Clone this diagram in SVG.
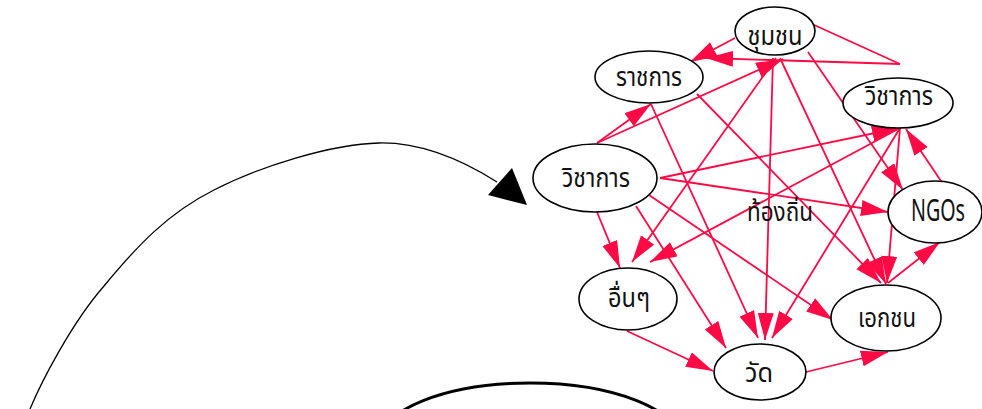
<svg xmlns="http://www.w3.org/2000/svg" width="982" height="409" viewBox="0 0 982 409">
<defs>
<marker id="ah" markerUnits="userSpaceOnUse" markerWidth="30" markerHeight="18" refX="27" refY="8" orient="auto">
<path d="M0,0 L27,8 L0,16 z" fill="#ff0a45"/>
</marker>
<style>
.node ellipse{fill:#fff;stroke:#000;stroke-width:1.6}
.node text{font-family:"Noto Sans Thai","Noto Sans","DejaVu Sans",sans-serif;font-size:26px;text-anchor:middle;fill:#111}
.edges path{fill:none;stroke:#ff0a45;stroke-width:1.8}
.edges path.a{marker-end:url(#ah)}
</style>
</defs>
<rect width="982" height="409" fill="#fff"/>
<g id="outer">
<path d="M30,409 C40,385 70,325 104,286 C137,246 168,213 214,190 C259.3,166.7 331.3,144 379,143 C426.7,142 470,165 497,182" fill="none" stroke="#000" stroke-width="1.3"/>
<polygon points="488,195 512,168 527,205" fill="#000"/>
<ellipse cx="530" cy="443" rx="151" ry="60" fill="none" stroke="#000" stroke-width="3"/>
</g>
<g class="edges" id="edges">
<path class="a" d="M735,38 L690,62"/>
<path d="M812,24 L900,64"/>
<path class="a" d="M900,64 L706,58"/>
<path class="a" d="M597,143 L783,59"/>
<path class="a" d="M597,143 L651,104"/>
<path class="a" d="M776,58 L632,262"/>
<path class="a" d="M773,58 L765,340"/>
<path class="a" d="M780,58 L886,284"/>
<path class="a" d="M808,52 L903,190"/>
<path class="a" d="M651,104 L758,338"/>
<path class="a" d="M697,94 L881,283"/>
<path class="a" d="M660,178 L899,128"/>
<path class="a" d="M660,178 L888,212"/>
<path class="a" d="M597,212 L620,268"/>
<path class="a" d="M636,206 L726,348"/>
<path class="a" d="M649,195 L833,320"/>
<path class="a" d="M900,128 L650,262"/>
<path class="a" d="M900,128 L772,338"/>
<path class="a" d="M900,128 L887,283"/>
<path class="a" d="M943,184 L906,129"/>
<path class="a" d="M888,283 L940,242"/>
<path class="a" d="M627,331 L713,371"/>
<path class="a" d="M806,372 L888,352"/>
</g>
<g class="node" id="n-chumchon"><ellipse cx="775" cy="31" rx="40" ry="24"/><text x="775" y="45" textLength="55" lengthAdjust="spacingAndGlyphs">ชุมชน</text></g>
<g class="node" id="n-ratchakan"><ellipse cx="649" cy="77" rx="54" ry="26"/><text x="649" y="86" textLength="66" lengthAdjust="spacingAndGlyphs">ราชการ</text></g>
<g class="node" id="n-wichakan-r"><ellipse cx="898" cy="103" rx="55" ry="25"/><text x="899" y="105" textLength="68" lengthAdjust="spacingAndGlyphs">วิชาการ</text></g>
<g class="node" id="n-wichakan-l"><ellipse cx="595" cy="178" rx="62" ry="34"/><text x="596" y="187" textLength="68" lengthAdjust="spacingAndGlyphs">วิชาการ</text></g>
<g class="node" id="n-thongthin"><text x="780" y="221" textLength="66" lengthAdjust="spacingAndGlyphs">ท้องถิ่น</text></g>
<g class="node" id="n-ngos"><ellipse cx="935" cy="212" rx="47" ry="31"/><text x="938" y="221" textLength="54" lengthAdjust="spacingAndGlyphs" style="font-size:30px">NGOs</text></g>
<g class="node" id="n-uen"><ellipse cx="628" cy="299" rx="49" ry="31"/><text x="629" y="307" textLength="42" lengthAdjust="spacingAndGlyphs">อื่นๆ</text></g>
<g class="node" id="n-wat"><ellipse cx="760" cy="372" rx="46" ry="28"/><text x="759" y="382" textLength="28" lengthAdjust="spacingAndGlyphs">วัด</text></g>
<g class="node" id="n-ekachon"><ellipse cx="886" cy="318" rx="55" ry="33"/><text x="887" y="327" textLength="58" lengthAdjust="spacingAndGlyphs">เอกชน</text></g>
</svg>
